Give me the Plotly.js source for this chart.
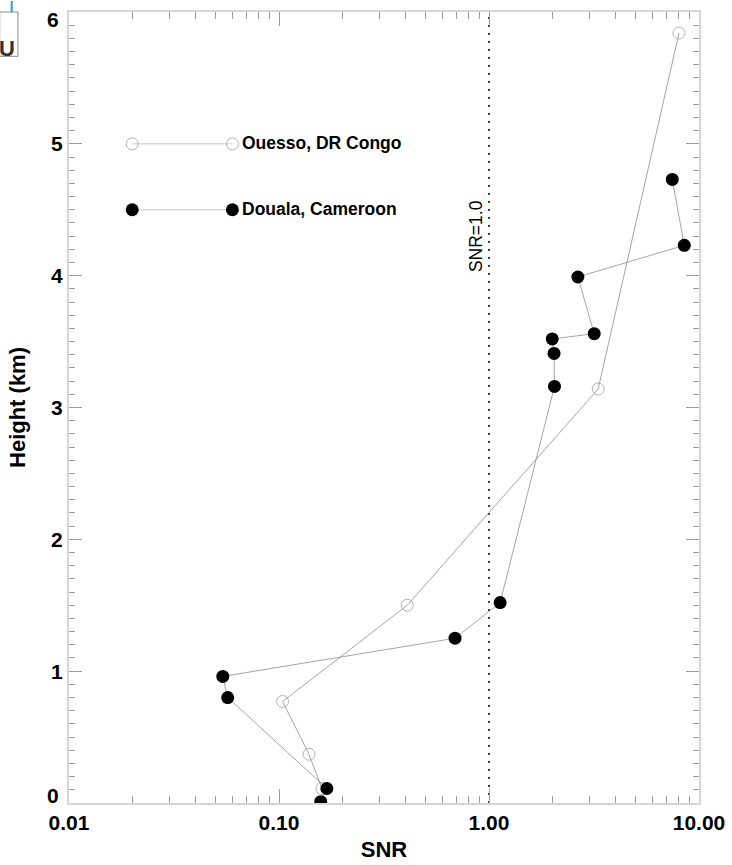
<!DOCTYPE html>
<html>
<head>
<meta charset="utf-8">
<script src="https://cdn.plot.ly/plotly-3.0.1.min.js"></script>
<style>
  html, body { margin: 0; padding: 0; background: #fff; }
  #chart { width: 732px; height: 865px; }
</style>
</head>
<body>
<div id="chart"></div>
<script>
// ---- Data ----
const ouessoSNR    = [0.160, 0.139, 0.104, 0.408, 3.31, 8.03];
const ouessoHeight = [0.11, 0.37, 0.77, 1.50, 3.14, 5.84];

const doualaSNR    = [0.158, 0.169, 0.057, 0.054, 0.689, 1.13, 2.05, 2.04, 2.00, 3.17, 2.65, 8.51, 7.46];
const doualaHeight = [0.01, 0.11, 0.80, 0.96, 1.25, 1.52, 3.16, 3.41, 3.52, 3.56, 3.99, 4.23, 4.73];

const seriesNames  = ["Ouesso, DR Congo", "Douala, Cameroon"];
const legendSNR    = [0.02, 0.06];
const legendHeight = [5.0, 4.5];

const thresholdSNR    = [1.0, 1.0];
const thresholdHeight = [0, 6];
const thresholdLabel  = "SNR=1.0";

const xTickVals  = [0.01, 0.1, 1, 10];
const xTickText  = ["0.01", "0.10", "1.00", "10.00"];
const yTickVals  = [0, 1, 2, 3, 4, 5, 6];
const yTickText  = ["0", "1", "2", "3", "4", "5", "6"];

// minor log ticks (axis styling)
const xMinor = [];
[0.01, 0.1, 1].forEach(d => { for (let k = 2; k <= 9; k++) xMinor.push(d * k); });

const lineGrey = "#8e8e8e";
const fontFam = "Liberation Sans, Arial, Helvetica, sans-serif";
const tickFont = { family: fontFam, size: 21, color: "#000", weight: "bold" };

const traces = [
  {
    x: thresholdSNR, y: thresholdHeight, mode: "lines",
    line: { color: "#000", width: 1.5, dash: "2px,6px" },
    hoverinfo: "skip", showlegend: false
  },
  {
    x: ouessoSNR, y: ouessoHeight, mode: "lines+markers", name: seriesNames[0],
    line: { color: lineGrey, width: 0.8 },
    marker: { symbol: "circle-open", size: 12, color: "#a0a0a0", line: { color: "#a0a0a0", width: 0.8 } },
    showlegend: false
  },
  {
    x: doualaSNR, y: doualaHeight, mode: "lines+markers", name: seriesNames[1],
    line: { color: lineGrey, width: 0.8 },
    marker: { symbol: "circle", size: 13, color: "#000", line: { width: 0 } },
    showlegend: false
  },
  {
    x: legendSNR, y: [legendHeight[0], legendHeight[0]], mode: "lines+markers",
    line: { color: "#bbb", width: 0.8 },
    marker: { symbol: "circle-open", size: 12, color: "#a0a0a0", line: { color: "#a0a0a0", width: 0.8 } },
    showlegend: false, hoverinfo: "skip"
  },
  {
    x: legendSNR, y: [legendHeight[1], legendHeight[1]], mode: "lines+markers",
    line: { color: "#bbb", width: 0.8 },
    marker: { symbol: "circle", size: 13, color: "#000", line: { width: 0 } },
    showlegend: false, hoverinfo: "skip"
  }
];

const axisCommon = {
  showline: true, linecolor: "#d6d6d6", linewidth: 2,
  mirror: "allticks", ticks: "inside", tickcolor: "#9a9a9a", tickwidth: 1,
  showgrid: false, zeroline: false,
  tickfont: tickFont
};

// y labels: inner ones as tick labels, end ones nudged inward as in the reference
const yInnerText = yTickText.map((t, i) => (i === 0 || i === yTickText.length - 1) ? "" : t);

const layout = {
  width: 732, height: 865,
  margin: { l: 69, r: 33, t: 12, b: 62, pad: 0 },
  paper_bgcolor: "#fff", plot_bgcolor: "#fff",
  showlegend: false,
  xaxis: Object.assign({}, axisCommon, {
    type: "log", range: [-2, 1],
    tickmode: "array", tickvals: xTickVals, ticktext: xTickText, ticklen: 14,
    minor: { tickmode: "array", tickvals: xMinor, ticks: "inside", ticklen: 7, tickcolor: "#9a9a9a", tickwidth: 1, showgrid: false },
    title: { text: "SNR", font: { family: fontFam, size: 22, color: "#000", weight: "bold" }, standoff: 8 },
    automargin: false
  }),
  yaxis: Object.assign({}, axisCommon, {
    range: [0, 6], tickmode: "array", tickvals: yTickVals, ticktext: yInnerText, ticklen: 13,
    minor: { dtick: 0.1, ticks: "inside", ticklen: 6, tickcolor: "#9a9a9a", tickwidth: 1, showgrid: false },
    title: { text: "Height (km)", font: { family: fontFam, size: 22, color: "#000", weight: "bold" }, standoff: 19 },
    automargin: false
  }),
  annotations: [
    {
      x: 0, y: yTickVals[0], xref: "paper", yref: "y", text: yTickText[0], showarrow: false,
      xanchor: "right", yanchor: "middle", xshift: -8, yshift: 8, font: tickFont
    },
    {
      x: 0, y: yTickVals[yTickVals.length - 1], xref: "paper", yref: "y", text: yTickText[yTickText.length - 1], showarrow: false,
      xanchor: "right", yanchor: "middle", xshift: -8, yshift: -7, font: tickFont
    },
    {
      x: Math.log10(legendSNR[1]), y: legendHeight[0], xref: "x", yref: "y",
      text: seriesNames[0], showarrow: false, xanchor: "left", yanchor: "middle", xshift: 8, yshift: 1,
      font: { family: fontFam, size: 17.5, color: "#000", weight: "bold" }
    },
    {
      x: Math.log10(legendSNR[1]), y: legendHeight[1], xref: "x", yref: "y",
      text: seriesNames[1], showarrow: false, xanchor: "left", yanchor: "middle", xshift: 8, yshift: 1,
      font: { family: fontFam, size: 17.5, color: "#000", weight: "bold" }
    },
    {
      x: Math.log10(thresholdSNR[0]), y: 4.3, xref: "x", yref: "y",
      text: thresholdLabel, showarrow: false, textangle: -90, xanchor: "center", yanchor: "middle", xshift: -13,
      font: { family: fontFam, size: 17.5, color: "#000" }
    },
    {
      x: 0, y: 1, xref: "paper", yref: "paper", xshift: -62, yshift: -22,
      text: "U", showarrow: false, xanchor: "center", yanchor: "top",
      font: { family: fontFam, size: 22, color: "#333", weight: "bold" }
    }
  ],
  shapes: [
    { type: "rect", xref: "paper", yref: "paper", x0: -0.11, x1: -0.081, y0: 1.0, y1: 0.944,
      line: { color: "#888", width: 1 }, fillcolor: "rgba(0,0,0,0)" },
    { type: "line", xref: "paper", yref: "paper", x0: -0.091, x1: -0.091, y0: 1.014, y1: 1.0,
      line: { color: "#1aa3e8", width: 2 } }
  ]
};

Plotly.newPlot("chart", traces, layout, { displayModeBar: false, staticPlot: true });
</script>
</body>
</html>
